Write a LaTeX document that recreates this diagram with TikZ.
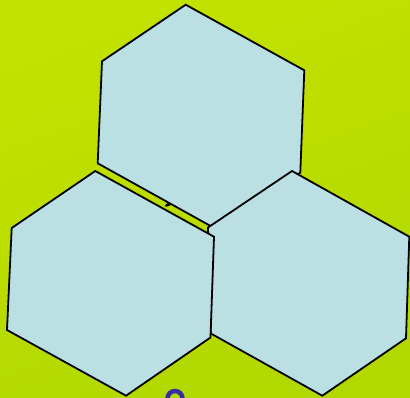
\documentclass[tikz,border=0pt]{standalone}
\definecolor{limetop}{RGB}{194,226,0}
\definecolor{limebot}{RGB}{178,216,0}
\definecolor{hexfill}{RGB}{186,224,228}
\definecolor{ringblue}{RGB}{58,44,160}
\tikzset{hexcell/.style={fill=hexfill,draw=black,line width=1.8pt,line join=miter}}
\begin{document}
\begin{tikzpicture}[x=1pt,y=-1pt]
\useasboundingbox (0,0) rectangle (410,397);
\clip (0,0) rectangle (410,397);
\shade[top color=limetop,bottom color=limebot,shading angle=20] (0,0) rectangle (410,397);
% small dark shape peeking through the gap
\fill[black,rotate around={29:(170,203.5)}] (170,203.5) ellipse [x radius=6, y radius=1.6];
% partial ring at the bottom
\draw[ringblue,line width=4.5pt] (175,398.5) circle [radius=7.5];
% top hexagon
\draw[hexcell] (185.7,4.7) -- (304.3,70.3) -- (300.3,172.7) -- (216,229) -- (97.7,163.3) -- (102,61.3) -- cycle;
% right hexagon
\draw[hexcell] (292,171) -- (409.3,236.7) -- (406,338.3) -- (322.3,395.7) -- (210.5,333.3) -- (208,227.5) -- cycle;
% left hexagon
\draw[hexcell] (95.3,171) -- (214,236.7) -- (210.5,337.5) -- (126,395.7) -- (7,330) -- (11.7,228) -- cycle;
\end{tikzpicture}
\end{document}
